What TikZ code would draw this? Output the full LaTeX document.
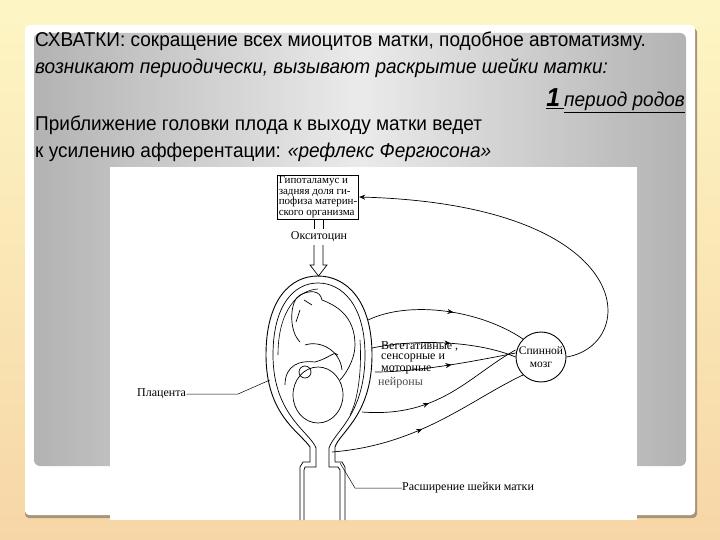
\documentclass[tikz,border=0pt]{standalone}
\usepackage{fontspec}
\setmainfont{Liberation Serif}
\newfontfamily\slidefont{Liberation Sans}
\usetikzlibrary{decorations.markings,arrows.meta}
\definecolor{bgtop}{HTML}{FDF6C4}
\definecolor{bgbot}{HTML}{F7D6A6}
\definecolor{shadowc}{HTML}{A89478}
\tikzset{
  slidetxt/.style={anchor=base west,inner sep=0,font=\slidefont\fontsize{20}{22}\selectfont},
  fig/.style={line width=0.9pt,black},
  lbl/.style={font=\fontsize{12}{13}\selectfont,inner sep=0},
  midleft/.style={postaction={decorate},decoration={markings,mark=at position #1 with {\arrow{Stealth[length=6pt,width=5pt,reversed]}}}},
  midright/.style={postaction={decorate},decoration={markings,mark=at position #1 with {\arrow{Stealth[length=6pt,width=5pt]}}}},
}
\begin{document}
\begin{tikzpicture}[x=1pt,y=-1pt]
\useasboundingbox (0,0) rectangle (720,540);
\shade[top color=bgtop,bottom color=bgbot] (0,0) rectangle (720,540);
% card
\fill[shadowc,rounded corners=4pt] (25,28) rectangle (697,518);
\fill[white,rounded corners=4pt] (25,25) rectangle (695,515);
\shade[left color=black!30,right color=black!30,middle color=black!8,rounded corners=6pt] (34,33) rectangle (686,466);
% texts
\node[slidetxt] (t1) at (35,47) {\scalebox{0.95}[1]{СХВАТКИ: сокращение всех миоцитов матки, подобное автоматизму.}};
\node[slidetxt] (t2) at (35,74) {\scalebox{0.95}[1]{\itshape возникают периодически, вызывают раскрытие шейки матки:}};
\node[slidetxt,anchor=base east] (t3) at (685,107) {\scalebox{0.95}[1]{\underline{\fontsize{26}{26}\selectfont\bfseries\itshape 1\,}\underline{\itshape период родов}}};
\node[slidetxt] (t4) at (35,131) {\scalebox{0.95}[1]{Приближение головки плода к выходу матки ведет}};
\node[slidetxt] (t5) at (35,158) {\scalebox{0.95}[1]{к усилению афферентации: \itshape «рефлекс Фергюсона»}};
% figure area
\fill[white] (110,167) rectangle (637,520);
% box
\node[draw,line width=0.9pt,inner sep=1.5pt,align=left,font=\fontsize{11}{10.5}\selectfont] (box) at (318,197) {Гипоталамус и\\задняя доля ги-\\пофиза материн-\\ского организма};
\node[lbl] (oxy) at (319,237) {Окситоцин};
\draw[fig,line width=0.7pt] (314,219) -- (314,229) (323,219) -- (323,229);
\draw[fig,line width=0.7pt] (314,245) -- (314,265) -- (310,265) -- (318.5,276) -- (327,265) -- (323,265) -- (323,245);
% womb
\draw[fig] (310,462) -- (310,447) .. controls (300,432) and (266,415) .. (266,355) .. controls (266,300) and (290,276) .. (318,276) .. controls (346,276) and (372,300) .. (372,355) .. controls (372,415) and (340,432) .. (335,447) -- (335,462);
\draw[fig,line width=0.7pt] (316,462) -- (316,448) .. controls (310,432) and (273,415) .. (273,355) .. controls (273,305) and (294,283) .. (318,283) .. controls (342,283) and (365,305) .. (365,355) .. controls (365,415) and (334,432) .. (329,448) -- (329,462);
\draw[fig,line width=0.6pt] (278,355) .. controls (278,310) and (298,290) .. (318,289);
\draw[fig,line width=0.6pt] (360,340) .. controls (362,370) and (358,400) .. (350,415);
% cervix tubes
\draw[fig,line width=0.7pt] (310,462) -- (303,462) -- (300,467) -- (300,520);
\draw[fig,line width=0.7pt] (316,462) -- (316,467) -- (305,467) -- (304,470) -- (304,520);
\draw[fig,line width=0.7pt] (335,462) -- (342,462) -- (345,467) -- (345,520);
\draw[fig,line width=0.7pt] (329,462) -- (329,467) -- (338,467) -- (340,470) -- (340,520);
% fetus (simplified)
\draw[fig,line width=0.7pt] (318,395) circle[x radius=25,y radius=28];
\draw[fig,line width=0.7pt] (300,342) .. controls (288,330) and (290,300) .. (300,295) .. controls (310,290) and (320,290) .. (322,300) .. controls (335,305) and (355,315) .. (355,345) .. controls (355,360) and (345,375) .. (340,380);
\draw[fig,line width=0.7pt] (305,345) .. controls (320,340) and (340,350) .. (342,370);
\draw[fig,line width=0.7pt] (285,385) .. controls (285,365) and (300,360) .. (315,362) .. controls (330,358) and (335,350) .. (338,355);
\draw[fig,line width=0.7pt] (305,372) circle[radius=6];
\draw[fig,line width=0.7pt] (300,310) -- (296,322) (304,300) -- (312,305);
% spinal cord
\node[draw,circle,line width=0.9pt,minimum size=50pt,inner sep=0,align=center,font=\fontsize{11.5}{12.5}\selectfont] (sc) at (541,357) {Спинной\\мозг};
% loop to box
\draw[fig,line width=0.7pt,-{Stealth[length=6pt,width=5pt]}] (sc.east) .. controls (640,345) and (640,205) .. (box.east);
% efferent
\coordinate (w1) at (368,320);
\coordinate (w2) at (372,348);
\coordinate (w3) at (375,372);
\coordinate (w4) at (362,412);
\coordinate (w5) at (332,452);
\draw[fig,line width=0.7pt,midleft=0.5] (sc.north west) .. controls (480,310) and (410,300) .. (w1);
\draw[fig,line width=0.7pt,midleft=0.5] (sc.west) .. controls (480,342) and (420,338) .. (w2);
\draw[fig,line width=0.7pt,midleft=0.5] ([yshift=4pt]sc.west) .. controls (480,360) and (420,372) .. (w3);
\draw[fig,line width=0.7pt,midright=0.4] (w4) .. controls (440,418) and (470,375) .. ([yshift=7pt]sc.west);
\draw[fig,line width=0.7pt,midright=0.45] (w5) .. controls (420,445) and (470,400) .. (sc.south west);
% labels
\node[lbl,anchor=west] (veg) at (381,346) {Вегетативные ,};
\node[lbl,anchor=west] (sens) at (381,358) {сенсорные и};
\node[lbl,anchor=west] (mot) at (381,370) {моторные};
\node[lbl,anchor=west,text=black!70] (neu) at (378,383) {нейроны};
\node[lbl,anchor=west] (plac) at (137,394) {Плацента};
\draw[fig,line width=0.5pt] (plac.east) -- (238,394) -- (270,380);
\node[lbl,anchor=west] (ras) at (402,488) {Расширение шейки матки};
\draw[fig,line width=0.5pt] (ras.west) -- (355,488) -- (340,463);
\end{tikzpicture}
\end{document}
